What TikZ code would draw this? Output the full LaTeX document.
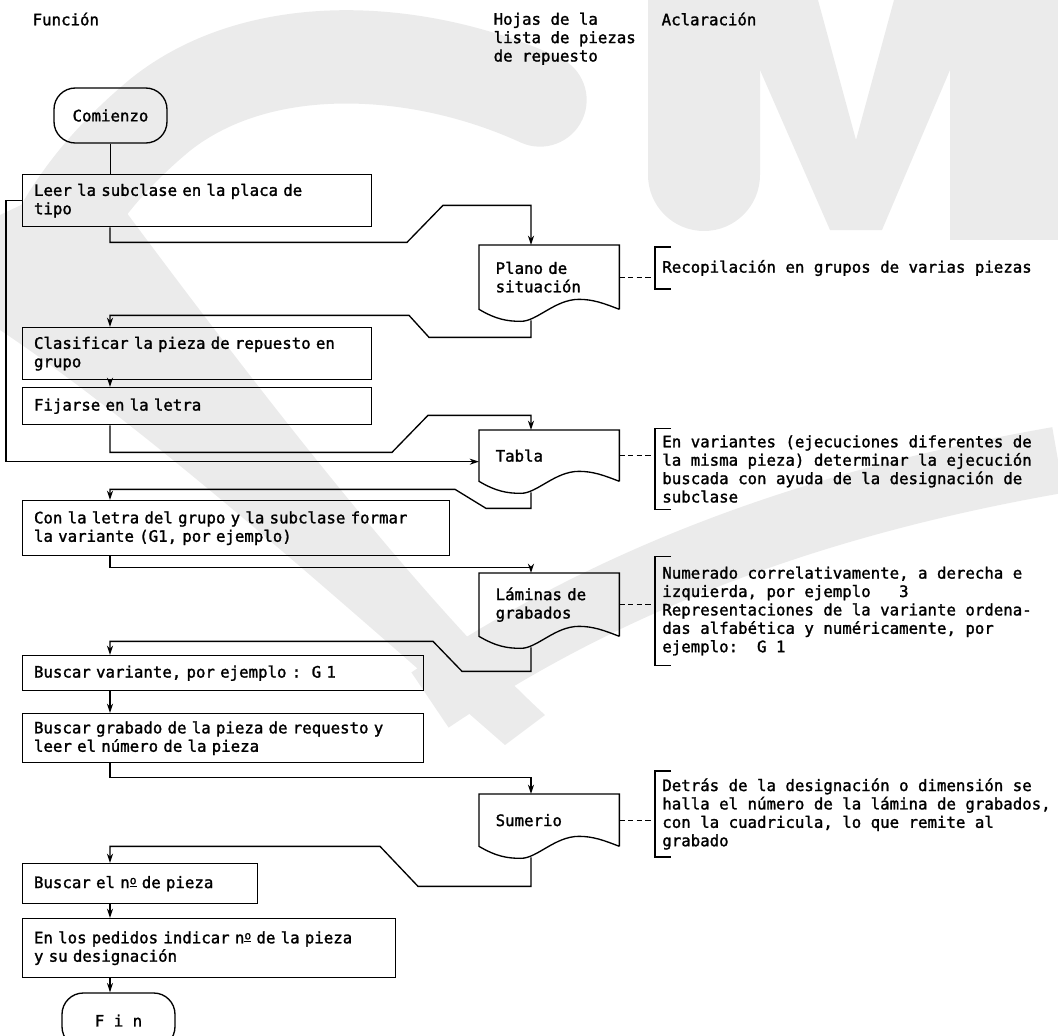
\documentclass[tikz,border=0pt]{standalone}
\usepackage{fontspec}
\newfontfamily\mono[FakeBold=1.5]{DejaVu Sans Mono}
\usetikzlibrary{arrows.meta,calc,positioning}

% hoja con borde ondulado + puntos de entrada/salida
\newcommand{\hoja}[1]{%
  \draw (#1.south east) -- (#1.north east) -- (#1.north west) -- (#1.south west)
    .. controls ($(#1.south west)+(17,10)$) and ($(#1.south west)+(28,12)$) .. ($(#1.south west)+(42,12)$)
    .. controls ($(#1.south west)+(58,12)$) and ($(#1.south west)+(76,-10)$) .. ($(#1.south west)+(100,-10)$)
    .. controls ($(#1.south west)+(114,-10)$) and ($(#1.south west)+(125,-6)$) .. (#1.south east);
  \coordinate (#1-in) at ($(#1.north west)+(52,0)$);
  \coordinate (#1-out) at ($(#1.south west)+(52,11)$);
}
% corchete de la aclaracion
\newcommand{\corchete}[1]{%
  \draw ($(#1.north west)+(16,0)$) -- (#1.north west) -- (#1.south west) -- ++(16,0);
}
\newcommand{\nro}{n\raisebox{0.45ex}{\fontsize{8.5pt}{8.5pt}\selectfont\underline{o}}}
\definecolor{marca}{gray}{0.92}

\begin{document}
\begin{tikzpicture}[x=0.75pt, y=-0.75pt, line width=1pt,
    every node/.style={font=\mono\fontsize{11.8pt}{13.8pt}\selectfont},
    caja/.style={draw, anchor=north west, align=left, inner xsep=8.5pt, inner ysep=0pt},
    hojanodo/.style={anchor=north west, align=left, inner xsep=12pt, text width=80.25pt},
    term/.style={draw, rounded corners=16pt, minimum width=84.75pt, minimum height=41.25pt},
    nota/.style={anchor=west, align=left, inner xsep=5pt},
    flecha/.style={-{Stealth[length=7pt,width=4.5pt]}},
    guion/.style={line width=0.7pt, dash pattern=on 4pt off 2.5pt}]
\useasboundingbox (0,0) rectangle (1058,1036);
\begin{scope}
\clip (0,0) rectangle (1058,1036);
% marca de agua (S y M en gris claro)
\draw[marca, line width=70pt, line cap=round] (540,100) .. controls (420,45) and (260,35) .. (160,115) .. controls (100,165) and (70,210) .. (50,250);
\fill[marca] (0,215) -- (95,170) .. controls (250,380) and (420,600) .. (545,715) -- (505,745) .. controls (350,610) and (150,430) .. (0,330) -- cycle;
\draw[marca, line width=50pt] (430,700) .. controls (600,585) and (800,505) .. (1058,460);
\fill[marca] (648,0) -- (648,175) arc[start angle=180, end angle=0, radius=56] -- (760,0) -- cycle;
\fill[marca] (760,0) -- (818,0) -- (856,140) -- (894,0) -- (950,0) -- (950,70) -- (882,230) -- (830,230) -- (760,70) -- cycle;
\fill[marca] (950,0) -- (1058,0) -- (1058,240) -- (950,240) -- cycle;
\end{scope}
\coordinate (eje) at (110,0);

% cabeceras
\node[anchor=north west, inner sep=0pt] (funcion) at (32,12) {Función};
\node[anchor=north west, inner sep=0pt, align=left] (hojas) at (493,12) {Hojas de la\\lista de piezas\\de repuesto};
\node[anchor=north west, inner sep=0pt] (aclar) at (661,12) {Aclaración};

% columna de funciones
\node[term] (comienzo) at (110.5,115.5) {Comienzo};
\node[caja, text width=244.75pt, minimum height=39pt] (leer) at (22,174) {Leer la subclase en la placa de\\tipo};
\node[caja, text width=244.75pt, minimum height=39pt] (clasif) at (22,327) {Clasificar la pieza de repuesto en\\grupo};
\node[caja, text width=244.75pt, minimum height=27.75pt] (fijar) at (22,387) {Fijarse en la letra};
\node[caja, text width=303.25pt, minimum height=41.25pt] (formar) at (22,500) {\mbox{Con la letra del grupo y la subclase formar}\\la variante (G1, por ejemplo)};
\node[caja, text width=283.75pt, minimum height=26.25pt] (buscvar) at (22,655) {Buscar variante, por ejemplo~:~~G~1};
\node[caja, text width=283.75pt, minimum height=36.75pt] (buscgrab) at (22,713) {\mbox{Buscar grabado de la pieza de requesto y}\\leer el número de la pieza};
\node[caja, text width=159.25pt, minimum height=30pt] (buscnum) at (22,863) {Buscar el \nro{} de pieza};
\node[caja, text width=262.75pt, minimum height=44.25pt] (pedido) at (22,918) {\mbox{En los pedidos indicar \nro{} de la pieza}\\y su designación};
\node[term] (fin) at (118.5,1020.5) {F~i~n};

% hojas de la lista
\node[hojanodo, minimum height=47.25pt] (plano) at (479,245) {Plano de\\situación};
\hoja{plano}
\node[hojanodo, minimum height=37.5pt] (tabla) at (479,430) {Tabla};
\hoja{tabla}
\node[hojanodo, minimum height=46.5pt] (laminas) at (479,573) {Láminas de\\grabados};
\hoja{laminas}
\node[hojanodo, minimum height=38.25pt] (sumerio) at (479,794) {Sumerio};
\hoja{sumerio}

% aclaraciones
\node[nota, inner ysep=9.2pt] (notaplano) at (655,268) {Recopilación en grupos de varias piezas};
\node[nota, inner ysep=4.4pt] (notatabla) at (655,469) {En variantes (ejecuciones diferentes de\\la misma pieza) determinar la ejecución\\buscada con ayuda de la designación de\\subclase};
\node[nota, inner ysep=7.2pt] (notalam) at (655,611) {Numerado correlativamente, a derecha e\\izquierda, por ejemplo~~~3\\Representaciones de la variante ordena-\\das alfabética y numéricamente, por\\ejemplo:~~G~1};
\node[nota, inner ysep=5.1pt] (notasum) at (655,814) {Detrás de la designación o dimensión se\\halla el número de la lámina de grabados,\\con la cuadricula, lo que remite al\\grabado};
\corchete{notaplano}
\corchete{notatabla}
\corchete{notalam}
\corchete{notasum}
\draw[guion] (plano.east) -- (plano.east -| notaplano.west);
\draw[guion] (tabla.east) -- (tabla.east -| notatabla.west);
\draw[guion] (laminas.east) -- (laminas.east -| notalam.west);
\draw[guion] (sumerio.east) -- (sumerio.east -| notasum.west);

% conexiones
\draw (comienzo.south) -- (comienzo.south |- leer.north);
\draw[flecha] (leer.west) -- ++(-16,0) |- ([yshift=-4.5pt]tabla.west);
\draw[flecha] (eje |- leer.south) -- ++(0,15) -- ++(297,0) -- ++(36,-37) -| (plano-in);
\draw[flecha] (plano-out) -- ++(0,17) -- ++(-102,0) -- ++(-20,-22) -| (eje |- clasif.north);
\draw[flecha] (eje |- clasif.south) -- (eje |- fijar.north);
\draw[flecha] (eje |- fijar.south) -- ++(0,27) -- ++(282,0) -- ++(36,-37) -| (tabla-in);
\draw[flecha] (tabla-out) -- ++(0,16) -- ++(-45,0) -- ++(-31,-19) -| (eje |- formar.north);
\draw[flecha] (eje |- formar.south) -- ++(0,11) -| (laminas-in);
\draw[flecha] (laminas-out) -- ++(0,24) -- ++(-69,0) -- ++(-29,-30) -| (eje |- buscvar.north);
\draw[flecha] (eje |- buscvar.south) -- (eje |- buscgrab.north);
\draw[flecha] (eje |- buscgrab.south) -- ++(0,14) -| (sumerio-in);
\draw[flecha] (sumerio-out) -- ++(0,29) -- ++(-113,0) -- ++(-38,-40) -| (eje |- buscnum.north);
\draw[flecha] (eje |- buscnum.south) -- (eje |- pedido.north);
\draw[flecha] (eje |- pedido.south) -- (eje |- fin.north);
\end{tikzpicture}
\end{document}
